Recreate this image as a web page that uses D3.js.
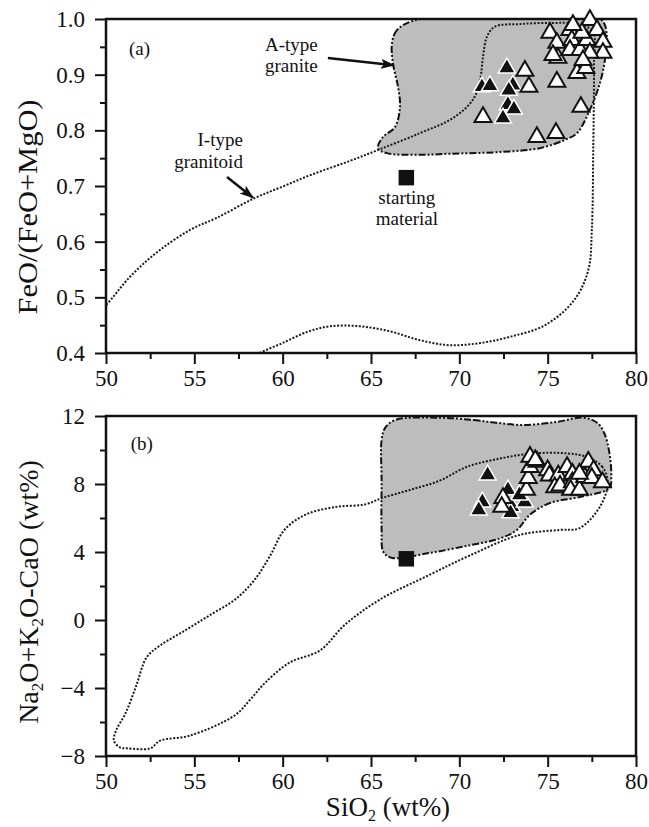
<!DOCTYPE html>
<html>
<head>
<meta charset="utf-8">
<title>A-type granite discrimination</title>
<script src="https://cdn.jsdelivr.net/npm/d3@7/dist/d3.min.js"></script>
<style>
  body { margin: 0; background: #fff; }
  svg text { font-family: "Liberation Serif", "Times New Roman", serif; fill: #111; }
  .frame { fill: none; stroke: #111; stroke-width: 2.5; }
  .axis path { display: none; }
  .axis line { stroke: #111; stroke-width: 2; }
  .axis text { font-size: 23px; font-family: "Liberation Serif", serif; }
  .atype { fill: #bdbdbd; stroke: #111; stroke-width: 2; stroke-dasharray: 7 2 2 2 2 2; }
  .itype { fill: none; stroke: #1a1a1a; stroke-width: 2; stroke-dasharray: 2 1.6; }
  .note { font-size: 19px; }
</style>
</head>
<body>
<div id="chart"></div>
<script>
// ---- tick values ----
var xTicks = [50, 55, 60, 65, 70, 75, 80];
var xMinor = [52.5, 57.5, 62.5, 67.5, 72.5, 77.5];
var yTicksA = [0.4, 0.5, 0.6, 0.7, 0.8, 0.9, 1.0];
var yMinorA = [0.45, 0.55, 0.65, 0.75, 0.85, 0.95];
var yTicksB = [-8, -4, 0, 4, 8, 12];
var yMinorB = [-6, -2, 2, 6, 10];

// ---- panel (a): FeO/(FeO+MgO) vs SiO2 ----
var iTypeA = [[49.4,0.47],[50,0.486],[51.36,0.537],[52.89,0.581],[54.75,0.621],[56.28,0.643],[58.4,0.678],
  [60,0.699],[61.6,0.72],[63.8,0.745],[65.5,0.766],[67.77,0.795],[69.64,0.822],[70.77,0.855],[71.17,0.89],
  [71.34,0.932],[71.56,0.968],[72.0,0.986],[73.43,0.991],[75.3,0.993],[76.66,0.991],[77.56,0.978],[77.62,0.926],
  [77.58,0.765],[77.5,0.621],[77.3,0.549],[76.5,0.495],[74.85,0.450],[72.86,0.429],[71.2,0.418],[69.47,0.414],
  [67.77,0.423],[66.07,0.439],[64.37,0.448],[62.68,0.448],[61.4,0.438],[60.0,0.418],[58.7,0.40],[58.2,0.39]];
var aTypeA = [[67.77,1.0],[66.47,0.980],[66.19,0.957],[66.24,0.921],[66.53,0.878],[66.64,0.842],[66.36,0.806],
  [65.68,0.788],[65.39,0.768],[65.9,0.759],[67.77,0.756],[69.47,0.758],[72.3,0.761],[74.56,0.768],[75.98,0.783],
  [76.66,0.795],[77.39,0.837],[77.96,0.885],[78.24,0.926],[78.35,0.962],[78.24,0.989],[77.96,1.0]];
var openA = [[73.71,0.907],[73.94,0.878],[71.34,0.824],[74.39,0.788],[75.47,0.795],[75.52,0.887],[76.88,0.842],
  [76.66,0.903],[77.16,0.912],[75.13,0.975],[75.52,0.957],[76.26,0.980],[76.37,0.962],[75.58,0.930],[75.3,0.935],
  [76.26,0.944],[76.83,0.944],[77.39,0.998],[77.79,0.980],[77.22,0.962],[78.13,0.959],[78.13,0.939],[77.39,0.939],
  [77.0,0.926],[76.94,0.975],[76.43,0.989]];
var filledA = [[72.69,0.912],[71.28,0.878],[71.73,0.880],[73.03,0.881],[72.75,0.846],[73.09,0.838],[72.47,0.822],[72.8,0.872]];
var startA = [[67, 0.715]];

// ---- panel (b): Na2O+K2O-CaO vs SiO2 ----
var iTypeB = [[78.4,8.06],[78.1,9.0],[77.2,9.6],[76.1,9.8],[74.2,9.8],[72.3,9.5],[70.4,9.0],[68.9,8.2],[67.2,7.65],
  [65.7,7.2],[64.66,6.8],[63.0,6.65],[61.3,6.2],[60.1,5.3],[59.3,3.8],[58.4,2.35],[57.3,1.2],[55.9,0.3],[54.5,-0.6],
  [53.06,-1.5],[52.3,-2.2],[51.7,-3.9],[51.1,-5.5],[50.57,-6.5],[50.45,-7.1],[50.8,-7.5],[51.2,-7.55],[52.5,-7.55],
  [53.06,-7.1],[54.75,-6.8],[57.3,-5.6],[58.15,-4.7],[59.0,-3.7],[60.4,-2.5],[62.1,-1.8],[63.5,-0.3],[65.5,1.2],
  [68.3,2.65],[70.6,3.8],[73.4,5.0],[75.7,5.3],[76.8,5.4],[77.95,6.65]];
var aTypeB = [[68.9,11.9],[70.8,11.76],[72.1,11.6],[73.6,11.47],[75.5,11.65],[77.0,11.9],[77.8,11.6],[78.2,11.0],
  [78.5,9.8],[78.6,8.4],[78.5,7.76],[76.83,7.24],[75.13,6.88],[74.0,6.2],[73.26,5.3],[72.3,4.8],[70.6,4.4],
  [68.3,3.94],[66.2,3.65],[65.7,4.0],[65.6,5.3],[65.6,8.2],[65.6,10.6],[65.8,11.3],[66.36,11.76]];
var openB = [[72.47,7.17],[72.4,6.65],[73.8,7.65],[73.9,8.35],[74.0,9.0],[74.4,9.3],[75.0,8.8],[75.1,8.5],[75.6,8.5],
  [75.4,7.8],[75.7,7.9],[76.1,9.0],[76.4,8.6],[76.4,8.1],[76.3,7.65],[76.8,7.65],[77.1,8.4],[77.3,9.3],[77.6,8.8],
  [77.5,8.35],[78.1,8.1],[76.8,8.6],[74.0,9.6],[74.3,9.4]];
var filledB = [[71.6,8.53],[71.3,6.94],[71.1,6.47],[72.75,7.65],[72.98,6.65],[72.9,6.3],[73.7,6.94],[73.4,7.35]];
var startB = [[67, 3.6]];

var width = 649, height = 827;

var svg = d3.select('#chart').append('svg')
  .attr('width', width)
  .attr('height', height);

var defs = svg.append('defs');
defs.append('marker')
  .attr('id', 'arrow')
  .attr('viewBox', '0 0 14 10')
  .attr('refX', 13).attr('refY', 5)
  .attr('markerWidth', 14).attr('markerHeight', 10)
  .attr('markerUnits', 'userSpaceOnUse')
  .attr('orient', 'auto')
  .append('path')
  .attr('d', 'M0,0 L14,5 L0,10 L3,5 z')
  .attr('fill', '#111');

var x = d3.scaleLinear().domain([50, 80]).range([106, 636]);
var yA = d3.scaleLinear().domain([0.4, 1.0]).range([353, 19]);
var yB = d3.scaleLinear().domain([-8, 12]).range([756, 416]);

var tri = d3.symbol().type(d3.symbolTriangle).size(125);
var sq = d3.symbol().type(d3.symbolSquare).size(240);

function panel(id, y, yTicks, yMinor, fmt, aType, iType, iClosed, filled, open, start) {
  var g = svg.append('g');
  defs.append('clipPath').attr('id', 'clip' + id)
    .append('rect')
    .attr('x', x.range()[0]).attr('y', y.range()[1])
    .attr('width', x.range()[1] - x.range()[0])
    .attr('height', y.range()[0] - y.range()[1]);

  var line = d3.line()
    .x(function(d) { return x(d[0]); })
    .y(function(d) { return y(d[1]); });

  var inner = g.append('g').attr('clip-path', 'url(#clip' + id + ')');
  inner.append('path')
    .attr('class', 'atype')
    .attr('d', line.curve(d3.curveCatmullRomClosed)(aType));
  inner.append('path')
    .attr('class', 'itype')
    .attr('d', line.curve(iClosed ? d3.curveCatmullRomClosed : d3.curveCatmullRom)(iType));

  // axes
  g.append('g').attr('class', 'axis')
    .attr('transform', 'translate(0,' + y.range()[0] + ')')
    .call(d3.axisBottom(x).tickValues(xTicks).tickSize(11).tickPadding(6).tickFormat(d3.format('d')));
  g.append('g').attr('class', 'axis')
    .attr('transform', 'translate(0,' + y.range()[0] + ')')
    .call(d3.axisBottom(x).tickValues(xMinor).tickSize(6).tickFormat(''));
  g.append('g').attr('class', 'axis')
    .attr('transform', 'translate(' + x.range()[0] + ',0)')
    .call(d3.axisLeft(y).tickValues(yTicks).tickSize(11).tickPadding(10).tickFormat(fmt));
  g.append('g').attr('class', 'axis')
    .attr('transform', 'translate(' + x.range()[0] + ',0)')
    .call(d3.axisLeft(y).tickValues(yMinor).tickSize(6).tickFormat(''));

  g.append('rect')
    .attr('class', 'frame')
    .attr('x', x.range()[0]).attr('y', y.range()[1])
    .attr('width', x.range()[1] - x.range()[0])
    .attr('height', y.range()[0] - y.range()[1]);

  // samples
  g.selectAll('.filled').data(filled).enter().append('path')
    .attr('class', 'filled')
    .attr('d', tri)
    .attr('transform', function(d) { return 'translate(' + x(d[0]) + ',' + y(d[1]) + ')'; })
    .attr('fill', '#111').attr('stroke', '#fff').attr('stroke-width', 1.5);
  g.selectAll('.open').data(open).enter().append('path')
    .attr('class', 'open')
    .attr('d', tri)
    .attr('transform', function(d) { return 'translate(' + x(d[0]) + ',' + y(d[1]) + ')'; })
    .attr('fill', '#fff').attr('stroke', '#111').attr('stroke-width', 2);
  g.selectAll('.start').data(start).enter().append('path')
    .attr('class', 'start')
    .attr('d', sq)
    .attr('transform', function(d) { return 'translate(' + x(d[0]) + ',' + y(d[1]) + ')'; })
    .attr('fill', '#111');
  return g;
}

var gA = panel('A', yA, yTicksA, yMinorA, d3.format('.1f'), aTypeA, iTypeA, false, filledA, openA, startA);
var gB = panel('B', yB, yTicksB, yMinorB, d3.format('d'), aTypeB, iTypeB, true, filledB, openB, startB);

// panel letters
gA.append('text').attr('x', x(51.3)).attr('y', yA(0.935)).attr('class', 'note').text('(a)');
gB.append('text').attr('x', x(51.4)).attr('y', yB(10.0)).attr('class', 'note').text('(b)');

// annotations in panel (a)
gA.append('text').attr('class', 'note').attr('x', x(59.0)).attr('y', yA(0.943)).text('A-type');
gA.append('text').attr('class', 'note').attr('x', x(59.0)).attr('y', yA(0.905)).text('granite');
gA.append('line')
  .attr('x1', x(62.56)).attr('y1', yA(0.930)).attr('x2', x(66.3)).attr('y2', yA(0.917))
  .attr('stroke', '#111').attr('stroke-width', 2.5).attr('marker-end', 'url(#arrow)');

gA.append('text').attr('class', 'note').attr('text-anchor', 'end').attr('x', x(57.75)).attr('y', yA(0.771)).text('I-type');
gA.append('text').attr('class', 'note').attr('text-anchor', 'end').attr('x', x(57.75)).attr('y', yA(0.733)).text('granitoid');
gA.append('line')
  .attr('x1', x(56.85)).attr('y1', yA(0.716)).attr('x2', x(58.32)).attr('y2', yA(0.679))
  .attr('stroke', '#111').attr('stroke-width', 2.5).attr('marker-end', 'url(#arrow)');

gA.append('text').attr('class', 'note').attr('text-anchor', 'middle').attr('x', x(67.03)).attr('y', yA(0.668)).text('starting');
gA.append('text').attr('class', 'note').attr('text-anchor', 'middle').attr('x', x(67.03)).attr('y', yA(0.630)).text('material');

// axis titles
svg.append('text')
  .attr('transform', 'translate(37,207) rotate(-90)')
  .attr('text-anchor', 'middle')
  .attr('font-size', 28)
  .attr('textLength', 215).attr('lengthAdjust', 'spacingAndGlyphs')
  .text('FeO/(FeO+MgO)');

var tB = svg.append('text')
  .attr('transform', 'translate(38,592) rotate(-90)')
  .attr('text-anchor', 'middle')
  .attr('font-size', 28);
tB.append('tspan').text('Na');
tB.append('tspan').attr('font-size', 17).attr('dy', 5).text('2');
tB.append('tspan').attr('dy', -5).text('O+K');
tB.append('tspan').attr('font-size', 17).attr('dy', 5).text('2');
tB.append('tspan').attr('dy', -5).text('O-CaO (wt%)');

var tX = svg.append('text')
  .attr('x', 388).attr('y', 816)
  .attr('text-anchor', 'middle')
  .attr('font-size', 27);
tX.append('tspan').text('SiO');
tX.append('tspan').attr('font-size', 16).attr('dy', 5).text('2');
tX.append('tspan').attr('dy', -5).text(' (wt%)');
</script>
</body>
</html>
